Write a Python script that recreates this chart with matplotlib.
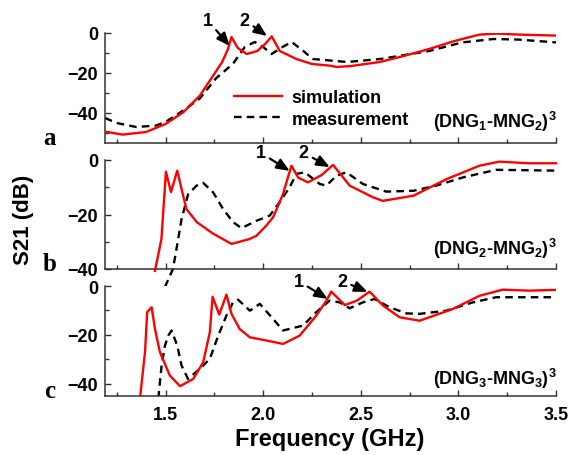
import numpy as np
import matplotlib.pyplot as plt
from matplotlib.ticker import MultipleLocator

plt.rcParams['font.family'] = ['Liberation Sans', 'DejaVu Sans']
plt.rcParams['font.weight'] = 'bold'
plt.rcParams['mathtext.fontset'] = 'custom'
plt.rcParams['mathtext.rm'] = 'Liberation Sans:bold'
plt.rcParams['mathtext.bf'] = 'Liberation Sans:bold'
plt.rcParams['mathtext.it'] = 'Liberation Sans:bold'

# panel a  (DNG1-MNG2)^3
a_sim_f = [1.19, 1.28, 1.40, 1.50, 1.59, 1.676, 1.744, 1.79, 1.82, 1.838, 1.87, 1.916, 1.97, 2.01, 2.044,
           2.085, 2.17, 2.25, 2.34, 2.376, 2.45, 2.597, 2.72, 2.85, 2.98, 3.108, 3.195, 3.31, 3.5]
a_sim_db = [-49.3, -50.8, -49.5, -45.5, -39.7, -31.3, -21.3, -14.5, -8.0, -2.0, -7.5, -10.5, -9.0, -5.5, -1.7,
            -9.0, -13.0, -15.5, -16.3, -17.0, -16.5, -14.5, -11.5, -8.0, -4.0, -0.8, -0.3, -0.8, -1.3]
a_mea_f = [1.19, 1.25, 1.35, 1.45, 1.50, 1.59, 1.676, 1.76, 1.845, 1.906, 1.957, 2.00, 2.044, 2.09, 2.146,
           2.20, 2.254, 2.43, 2.60, 2.85, 3.02, 3.18, 3.31, 3.5]
a_mea_db = [-42.5, -45.0, -47.0, -46.3, -44.5, -38.8, -32.7, -22.5, -15.5, -7.0, -4.5, -7.0, -10.5, -7.5, -4.5,
            -8.5, -13.0, -14.5, -13.0, -9.0, -4.7, -3.0, -3.3, -4.7]

# panel b  (DNG2-MNG2)^3
b_sim_f = [1.446, 1.479, 1.502, 1.528, 1.56, 1.582, 1.607, 1.66, 1.743, 1.838, 1.93, 1.966, 2.017, 2.051,
           2.085, 2.102, 2.12, 2.145, 2.18, 2.23, 2.30, 2.358, 2.443, 2.56, 2.612, 2.77, 2.94, 3.108,
           3.21, 3.36, 3.5]
b_sim_db = [-40.7, -29.0, -4.3, -11.8, -3.9, -10.6, -18.0, -22.8, -27.0, -30.8, -29.0, -27.8, -24.0, -21.0,
            -15.4, -12.5, -8.0, -2.1, -6.5, -8.2, -5.5, -1.8, -9.4, -13.6, -15.0, -13.1, -7.0, -2.1,
            -0.6, -1.2, -1.2]
b_mea_f = [1.497, 1.538, 1.556, 1.582, 1.616, 1.659, 1.693, 1.744, 1.795, 1.846, 1.889, 1.966, 2.034,
           2.085, 2.136, 2.17, 2.213, 2.29, 2.324, 2.375, 2.426, 2.511, 2.63, 2.77, 2.886, 3.023, 3.193, 3.5]
b_mea_db = [-46.6, -40.0, -32.7, -21.7, -12.5, -9.4, -8.4, -11.9, -18.0, -22.8, -25.0, -22.3, -20.4,
            -15.4, -10.0, -5.1, -4.5, -8.8, -9.4, -5.8, -4.5, -8.8, -11.6, -11.3, -9.4, -6.4, -3.6, -3.9]

# panel c  (DNG3-MNG3)^3
c_sim_f = [1.369, 1.395, 1.406, 1.429, 1.446, 1.471, 1.522, 1.574, 1.642, 1.693, 1.727, 1.741, 1.775,
           1.812, 1.838, 1.88, 1.932, 2.017, 2.102, 2.187, 2.272, 2.324, 2.349, 2.418, 2.48, 2.545, 2.614,
           2.699, 2.801, 2.972, 3.108, 3.227, 3.364, 3.5]
c_sim_db = [-46.0, -27.0, -10.7, -8.7, -17.6, -27.0, -36.6, -41.0, -38.0, -31.2, -18.9, -4.4, -11.7,
            -3.5, -11.4, -17.6, -21.0, -22.3, -23.7, -20.3, -12.1, -6.0, -2.3, -7.8, -6.0, -2.3, -8.0,
            -12.8, -14.2, -9.4, -4.0, -1.5, -1.9, -1.6]
c_mea_f = [1.463, 1.48, 1.497, 1.514, 1.531, 1.56, 1.582, 1.615, 1.676, 1.727, 1.77, 1.812, 1.846, 1.872,
           1.932, 1.983, 2.051, 2.102, 2.204, 2.272, 2.34, 2.392, 2.443, 2.511, 2.571, 2.648, 2.733,
           2.801, 2.937, 3.074, 3.193, 3.5]
c_mea_db = [-46.0, -32.5, -24.4, -20.3, -18.2, -24.4, -32.5, -38.0, -33.9, -29.8, -20.3, -12.1, -6.7, -5.6,
            -10.1, -7.3, -13.5, -18.2, -16.2, -10.7, -6.0, -6.7, -9.1, -6.7, -5.3, -8.7, -11.2,
            -11.4, -10.1, -6.7, -4.6, -4.6]

panels = [
    ('a', (a_sim_f, a_sim_db), (a_mea_f, a_mea_db), (-55, 0), r'$(DNG_1\text{-}MNG_2)^3$'),
    ('b', (b_sim_f, b_sim_db), (b_mea_f, b_mea_db), (-40, 0), r'$(DNG_2\text{-}MNG_2)^3$'),
    ('c', (c_sim_f, c_sim_db), (c_mea_f, c_mea_db), (-45, 0), r'$(DNG_3\text{-}MNG_3)^3$'),
]
# marker text position and arrow tip for peaks 1 and 2, per panel
marks = [
    [((1.715, 6.5), (1.829, -6.5)), ((1.905, 6.5), (2.02, -1.5))],
    [((1.988, 2.6), (2.136, -4.0)), ((2.208, 2.6), (2.341, -2.6))],
    [((2.182, 2.0), (2.331, -5.3)), ((2.405, 2.0), (2.535, -2.4))],
]

W, H = 569, 456
fig = plt.figure(figsize=(W / 100, H / 100), dpi=100)
boxes = [(34, 144), (161, 270), (287, 397)]
spine_col = '#333333'

for i, (letter, sim, mea, ylim, lab) in enumerate(panels):
    top, bot = boxes[i]
    ax = fig.add_axes([105 / W, 1 - bot / H, 451 / W, (bot - top) / H])
    unclip = (letter == 'b')
    ax.plot(sim[0], sim[1], color='#ff0000', lw=1.7, label='simulation', clip_on=not unclip, zorder=3)
    ax.plot(mea[0], mea[1], color='black', lw=1.7, ls=(0, (3.2, 2.2)), label='measurement',
            clip_on=not unclip, zorder=2)
    ax.set_xlim(1.19, 3.5)
    ax.set_ylim(*ylim)
    for s in ['top', 'right']:
        ax.spines[s].set_visible(False)
    for s in ['left', 'bottom']:
        ax.spines[s].set_color(spine_col)
        ax.spines[s].set_linewidth(1.1)
    ax.xaxis.set_major_locator(MultipleLocator(0.5))
    ax.xaxis.set_minor_locator(MultipleLocator(0.25))
    ax.yaxis.set_major_locator(MultipleLocator(20))
    ax.yaxis.set_minor_locator(MultipleLocator(10))
    ax.tick_params(which='both', direction='in', color=spine_col, width=1.0, labelsize=13)
    ax.tick_params(which='major', length=4)
    ax.tick_params(which='minor', length=3)
    ax.tick_params(axis='y', pad=5)
    ax.tick_params(axis='x', pad=7)
    ax.xaxis.set_major_formatter(lambda v, p: f'{v:.1f}')
    if letter != 'c':
        ax.tick_params(axis='x', labelbottom=False)
    for lb in ax.get_xticklabels() + ax.get_yticklabels():
        lb.set_fontweight('bold')

    fig.text(50 / W, 1 - (bot + 1) / H, letter, family='Liberation Serif', fontsize=18,
             fontweight='bold', ha='center', va='baseline')
    fig.text(557 / W, 1 - [128, 255, 385][i] / H, lab, fontsize=13, ha='right', va='baseline')

    for num, (txt, tip) in enumerate(marks[i], start=1):
        ax.annotate(str(num), xy=tip, xytext=txt, ha='center', va='center', fontsize=13,
                    fontweight='bold', annotation_clip=False,
                    arrowprops=dict(arrowstyle='-|>,head_length=0.6,head_width=0.25', color='black',
                                    lw=1.6, shrinkA=1, shrinkB=0))

    if letter == 'a':
        ax.legend(loc='upper left', bbox_to_anchor=(0.285, 0.49), frameon=False, fontsize=13,
                  handlelength=2.7, handletextpad=0.5, labelspacing=0.25, borderpad=0,
                  borderaxespad=0)

fig.text(23 / W, 1 - 220 / H, 'S21 (dB)', rotation=90, fontsize=16, fontweight='bold',
         ha='center', va='center')
fig.text(330 / W, 1 - 440 / H, 'Frequency (GHz)', fontsize=17, fontweight='bold',
         ha='center', va='center')

fig.savefig('out.png', dpi=100)
